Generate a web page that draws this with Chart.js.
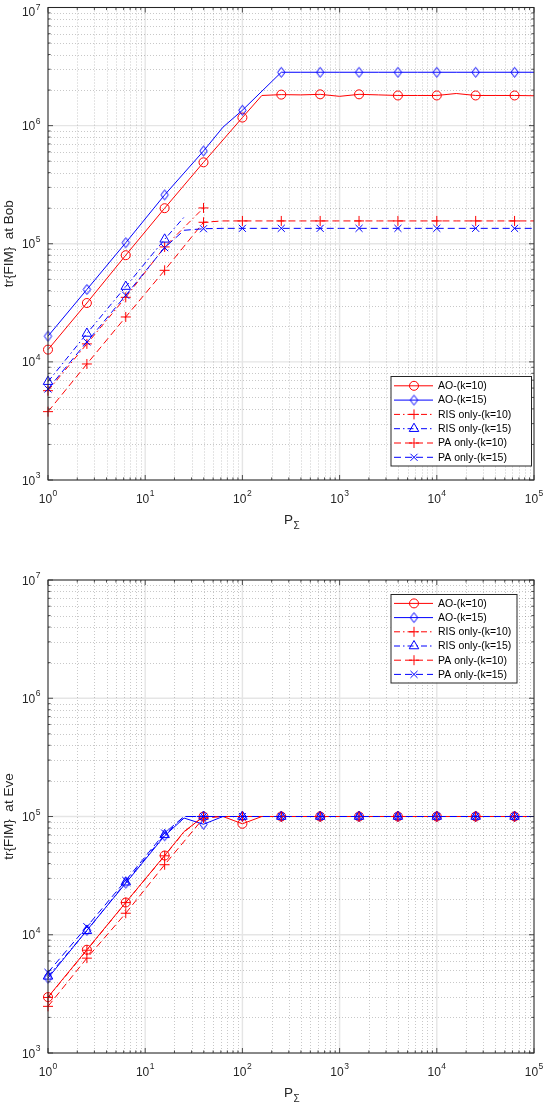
<!DOCTYPE html>
<html><head><meta charset="utf-8">
<script src="https://cdn.jsdelivr.net/npm/chart.js@4.4.1/dist/chart.umd.min.js"></script>
<style>
html,body{margin:0;padding:0;background:#fff;}
#wrap{position:relative;width:546px;height:1102px;overflow:hidden;}
canvas{position:absolute;left:0;}
</style></head><body>
<div id="wrap">
<canvas id="c1" width="546" height="540" style="top:0;width:546px;height:540px"></canvas>
<canvas id="c2" width="546" height="562" style="top:540px;width:546px;height:562px"></canvas>
</div>
<script>
// ---------- DATA ----------
const xValues = [1, 1.585, 2.512, 3.981, 6.310, 10, 15.85, 25.12, 39.81, 63.10, 100, 158.5,
  251.2, 398.1, 631.0, 1000, 1585, 2512, 3981, 6310, 10000, 15850, 25120, 39810, 63100, 100000];

const seriesLabels = ['AO-(k=10)', 'AO-(k=15)', 'RIS only-(k=10)', 'RIS only-(k=15)', 'PA only-(k=10)', 'PA only-(k=15)'];

// Bob
const bobAO10 = [12700, null, 31500, null, 80000, null, 200000, null, 489000, null, 1170000, 1800000,
  1830000, 1820000, 1840000, 1770000, 1840000, 1820000, 1800000, 1800000, 1800000, 1870000, 1800000, 1800000, 1800000, 1790000];
const bobAO15 = [16500, null, 41000, null, 102000, null, 259000, null, 610000, 970000, 1350000, null,
  2830000, 2830000, 2830000, 2830000, 2830000, 2830000, 2830000, 2830000, 2830000, 2830000, 2830000, 2830000, 2830000, 2830000];
const bobRIS10 = [5700, null, 14200, null, 35200, null, 94000, null, 201000, null, null, null,
  null, null, null, null, null, null, null, null, null, null, null, null, null, null];
const bobRIS15 = [6800, null, 17400, null, 43400, null, 109000, 168000, null, null, null, null,
  null, null, null, null, null, null, null, null, null, null, null, null, null, null];
const bobPA10 = [3790, null, 9600, null, 24000, null, 59600, null, 152000, 156000, 156000, 156000,
  156000, 156000, 156000, 156000, 156000, 156000, 156000, 156000, 156000, 156000, 156000, 156000, 156000, 156000];
const bobPA15 = [5900, null, 14750, null, 36600, null, 92700, 130000, 134000, 135000, 135000, 135000,
  135000, 135000, 135000, 135000, 135000, 135000, 135000, 135000, 135000, 135000, 135000, 135000, 135000, 135000];

// Eve
const eveAO10 = [2970, null, 7470, null, 18750, null, 46800, 74600, 100000, 100000, 86800, 100000,
  100000, 100000, 100000, 100000, 100000, 100000, 100000, 100000, 100000, 100000, 100000, 100000, 100000, 100000];
const eveAO15 = [4300, null, 10900, null, 27300, null, 68700, 97000, 86000, 100000, 100000, 100000,
  100000, 100000, 100000, 100000, 100000, 100000, 100000, 100000, 100000, 100000, 100000, 100000, 100000, 100000];
const eveRIS10 = [2950, null, 7400, null, 18700, null, 46500, 74000, 100000, 100000, 100000, 100000,
  100000, 100000, 100000, 100000, 100000, 100000, 100000, 100000, 100000, 100000, 100000, 100000, 100000, 100000];
const eveRIS15 = [4450, null, 10800, null, 27800, null, 70000, 100000, 100000, 100000, 100000, 100000,
  100000, 100000, 100000, 100000, 100000, 100000, 100000, 100000, 100000, 100000, 100000, 100000, 100000, 100000];
const evePA10 = [2480, null, 6340, null, 15200, null, 39100, null, 97000, 100000, 100000, 100000,
  100000, 100000, 100000, 100000, 100000, 100000, 100000, 100000, 100000, 100000, 100000, 100000, 100000, 100000];
const evePA15 = [4800, null, 11700, null, 28800, null, 72500, 100000, 100000, 100000, 100000, 100000,
  100000, 100000, 100000, 100000, 100000, 100000, 100000, 100000, 100000, 100000, 100000, 100000, 100000, 100000];

// Axis ticks
const xMajorTicks = [1, 10, 100, 1000, 10000, 100000];
const xTickExponents = ['0', '1', '2', '3', '4', '5'];
const yMajorTicks = [1000, 10000, 100000, 1000000, 10000000];
const yTickExponents = ['3', '4', '5', '6', '7'];

// ---------- STYLE ----------
const F = '"Liberation Sans", Arial, Helvetica, sans-serif';
const AX = '#262626';
const RED = 'rgb(255,0,0)', BLUE = 'rgb(0,0,255)';

function makeDiamond(color){
  const c = document.createElement('canvas');
  c.width = 11; c.height = 13;
  const g = c.getContext('2d');
  g.strokeStyle = color; g.lineWidth = 1;
  g.beginPath();
  g.moveTo(5.5, 1.5); g.lineTo(9.2, 6.5); g.lineTo(5.5, 11.5); g.lineTo(1.8, 6.5); g.closePath();
  g.stroke();
  return c;
}
const diamondImg = makeDiamond(BLUE);

const seriesStyles = [
  {color: RED,  dash: [],             marker: 'circle',   r: 4.5},
  {color: BLUE, dash: [],             marker: diamondImg, r: 5},
  {color: RED,  dash: [6, 3, 1.5, 3], marker: 'cross',    r: 5},
  {color: BLUE, dash: [6, 3, 1.5, 3], marker: 'triangle', r: 5.5},
  {color: RED,  dash: [7, 4],         marker: 'cross',    r: 5},
  {color: BLUE, dash: [7, 4],         marker: 'crossRot', r: 5}
];

function minorValues(a, b){
  const out = [];
  for (let e = a; e < b; e++) for (let d = 2; d <= 9; d++) out.push(d * Math.pow(10, e));
  return out;
}
const xMinor = minorValues(0, 5);
const yMinor = minorValues(3, 7);

function drawMarker(ctx, style, x, y, r){
  if (typeof style === 'object') { ctx.drawImage(style, x - style.width/2, y - style.height/2); return; }
  ctx.beginPath();
  if (style === 'circle') ctx.arc(x, y, r, 0, Math.PI*2);
  else if (style === 'triangle') { ctx.moveTo(x, y - r); ctx.lineTo(x + r*0.866, y + r*0.5); ctx.lineTo(x - r*0.866, y + r*0.5); ctx.closePath(); }
  else if (style === 'cross') { ctx.moveTo(x - r, y); ctx.lineTo(x + r, y); ctx.moveTo(x, y - r); ctx.lineTo(x, y + r); }
  else if (style === 'crossRot') { const d = r*0.7071; ctx.moveTo(x-d, y-d); ctx.lineTo(x+d, y+d); ctx.moveTo(x+d, y-d); ctx.lineTo(x-d, y+d); }
  ctx.stroke();
}

function powLabel(ctx, exp, x, base, align){
  ctx.font = '12px ' + F; const w1 = ctx.measureText('10').width;
  ctx.font = '8.5px ' + F; const w2 = ctx.measureText(exp).width;
  const total = w1 + 0.5 + w2;
  const x0 = align === 'center' ? x - total/2 : x - total;
  ctx.textAlign = 'left'; ctx.textBaseline = 'alphabetic';
  ctx.font = '12px ' + F; ctx.fillText('10', x0, base);
  ctx.font = '8.5px ' + F; ctx.fillText(exp, x0 + w1 + 0.5, base - 6.5);
}

const matlabAxes = {
  id: 'matlabAxes',
  beforeDatasetsDraw(chart, args, o){
    const ctx = chart.ctx, a = chart.chartArea, xs = chart.scales.x, ys = chart.scales.y;
    ctx.save();
    // minor dotted grid
    ctx.lineWidth = 0.8; ctx.strokeStyle = 'rgba(38,38,38,0.32)'; ctx.setLineDash([1, 2]);
    ctx.beginPath();
    xMinor.forEach(v => { const p = Math.round(xs.getPixelForValue(v)) + 0.5; ctx.moveTo(p, a.top); ctx.lineTo(p, a.bottom); });
    yMinor.forEach(v => { const p = Math.round(ys.getPixelForValue(v)) + 0.5; ctx.moveTo(a.left, p); ctx.lineTo(a.right, p); });
    ctx.stroke();
    // major solid grid
    ctx.setLineDash([]); ctx.lineWidth = 1.4; ctx.strokeStyle = 'rgba(38,38,38,0.12)';
    ctx.beginPath();
    xMajorTicks.forEach(v => { const p = xs.getPixelForValue(v); ctx.moveTo(p, a.top); ctx.lineTo(p, a.bottom); });
    yMajorTicks.forEach(v => { const p = ys.getPixelForValue(v); ctx.moveTo(a.left, p); ctx.lineTo(a.right, p); });
    ctx.stroke();
    ctx.restore();
  },
  afterDatasetsDraw(chart, args, o){
    const ctx = chart.ctx, a = chart.chartArea, xs = chart.scales.x, ys = chart.scales.y;
    ctx.save();
    ctx.setLineDash([]);
    // ticks
    ctx.strokeStyle = AX; ctx.lineWidth = 0.8;
    ctx.beginPath();
    const tk = (vals, len) => {
      vals.forEach(v => {
        const p = xs.getPixelForValue(v);
        ctx.moveTo(p, a.bottom); ctx.lineTo(p, a.bottom - len);
        ctx.moveTo(p, a.top); ctx.lineTo(p, a.top + len);
      });
    };
    const tky = (vals, len) => {
      vals.forEach(v => {
        const p = ys.getPixelForValue(v);
        ctx.moveTo(a.left, p); ctx.lineTo(a.left + len, p);
        ctx.moveTo(a.right, p); ctx.lineTo(a.right - len, p);
      });
    };
    tk(xMajorTicks, 5); tk(xMinor, 2.6); tky(yMajorTicks, 5); tky(yMinor, 2.6);
    ctx.stroke();
    // box
    ctx.lineWidth = 1; ctx.strokeStyle = AX;
    ctx.strokeRect(a.left, a.top, a.right - a.left, a.bottom - a.top);
    // tick labels
    ctx.fillStyle = AX;
    xMajorTicks.forEach((v, i) => powLabel(ctx, xTickExponents[i], xs.getPixelForValue(v), a.bottom + 22.5, 'center'));
    yMajorTicks.forEach((v, i) => {
      const p = ys.getPixelForValue(v);
      const shift = Math.max(0, 3.5 - (p - 8));
      powLabel(ctx, yTickExponents[i], a.left - 7.5, p + 4.5 + shift, 'right');
    });
    // x label P_Sigma
    ctx.font = '13.5px ' + F; ctx.textAlign = 'left'; ctx.textBaseline = 'alphabetic';
    const wP = ctx.measureText('P').width;
    ctx.font = '10px ' + F; const wS = ctx.measureText('Σ').width;
    const cx = (a.left + a.right)/2 + 0.5;
    const x0 = cx - (wP + wS)/2;
    ctx.font = '13.5px ' + F; ctx.fillText('P', x0, a.bottom + 44);
    ctx.font = '10px ' + F; ctx.fillText('Σ', x0 + wP + 0.5, a.bottom + 48.5);
    // y label
    ctx.save();
    ctx.translate(13, (a.top + a.bottom)/2);
    ctx.rotate(-Math.PI/2);
    ctx.font = '13.5px ' + F; ctx.textAlign = 'center'; ctx.textBaseline = 'alphabetic';
    ctx.fillText(o.ylabel, 0, 0);
    ctx.restore();
    // legend
    const L = o.legend;
    ctx.fillStyle = '#fff'; ctx.fillRect(L.x, L.y, L.w, L.h);
    ctx.strokeStyle = AX; ctx.lineWidth = 1; ctx.strokeRect(L.x + 0.5, L.y + 0.5, L.w, L.h);
    chart.data.datasets.forEach((ds, i) => {
      const st = seriesStyles[i];
      const yy = L.y + L.first + i * L.step;
      ctx.strokeStyle = st.color; ctx.lineWidth = 1; ctx.setLineDash(st.dash);
      ctx.beginPath(); ctx.moveTo(L.x + 3.5, yy); ctx.lineTo(L.x + 42.5, yy); ctx.stroke();
      ctx.setLineDash([]);
      drawMarker(ctx, st.marker, L.x + 23.5, yy, st.r);
      ctx.fillStyle = '#000'; ctx.font = '10.5px ' + F; ctx.textAlign = 'left'; ctx.textBaseline = 'middle';
      ctx.fillText(ds.label, L.x + 47.5, yy + 0.5);
    });
    ctx.restore();
  }
};

function makeChart(id, seriesData, pad, legendBox, ylabel){
  return new Chart(document.getElementById(id), {
    type: 'line',
    data: {
      datasets: seriesData.map((vals, i) => {
        const st = seriesStyles[i];
        return {
          label: seriesLabels[i],
          data: xValues.map((xv, j) => ({x: xv, y: vals[j]})),
          borderColor: st.color, borderWidth: 1, borderDash: st.dash,
          pointStyle: st.marker,
          pointRadius: c => (c.dataIndex % 2 === 0 ? st.r : 0),
          pointBorderColor: st.color, pointBackgroundColor: 'rgba(0,0,0,0)', pointBorderWidth: 1,
          fill: false, tension: 0, spanGaps: true, clip: false, order: 6 - i
        };
      })
    },
    options: {
      responsive: false, animation: false, events: [],
      layout: {padding: pad},
      scales: {
        x: {type: 'logarithmic', min: 1, max: 100000, display: false},
        y: {type: 'logarithmic', min: 1000, max: 10000000, display: false}
      },
      plugins: {legend: {display: false}, tooltip: {enabled: false},
        matlabAxes: {legend: legendBox, ylabel: ylabel}}
    },
    plugins: [matlabAxes]
  });
}

makeChart('c1', [bobAO10, bobAO15, bobRIS10, bobRIS15, bobPA10, bobPA15],
  {left: 48, right: 12, top: 7.5, bottom: 60},
  {x: 390.5, y: 376, w: 140.5, h: 89.5, first: 9.8, step: 14.3},
  'tr{FIM}  at Bob');
makeChart('c2', [eveAO10, eveAO15, eveRIS10, eveRIS15, evePA10, evePA15],
  {left: 48, right: 12, top: 40, bottom: 49},
  {x: 390.5, y: 54, w: 126, h: 88.5, first: 9.4, step: 14.2},
  'tr{FIM}  at Eve');
</script>
</body></html>
